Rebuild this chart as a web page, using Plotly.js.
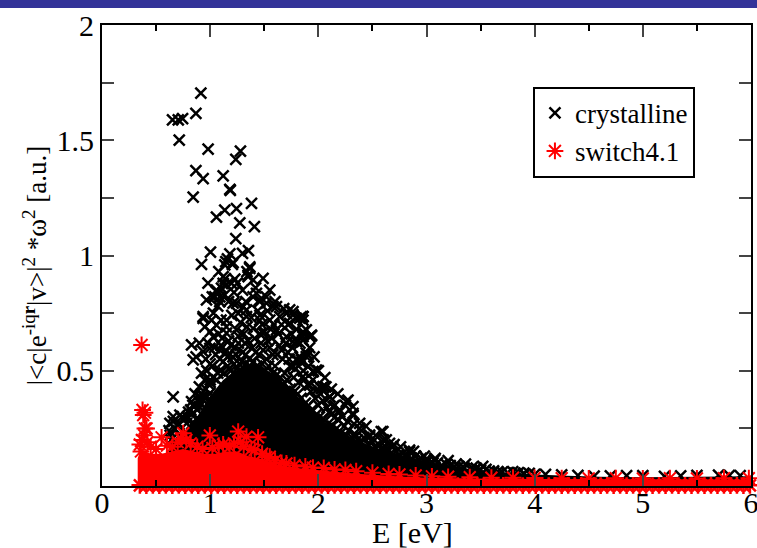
<!DOCTYPE html>
<html>
<head>
<meta charset="utf-8">
<script src="https://cdn.plot.ly/plotly-3.0.1.min.js"></script>
<style>html,body{margin:0;padding:0;background:#fff;}#chart{width:757px;height:548px;}</style>
</head>
<body>
<div id="chart"></div>
<script>
// ---- crystalline: scattered points (E, value) ----
var crystE = [0.914,0.868,0.652,0.705,0.745,0.714,0.981,1.280,1.237,0.868,0.935,1.120,1.182,1.186,0.843,1.382,1.243,1.135,1.058,1.274,1.409,1.237,1.003,1.354,1.299,0.920,1.145,1.182,1.212,1.135,1.366,1.120,1.228,1.351,1.489,1.160,1.205,1.340,
1.151,1.197,1.105,1.058,1.043,1.135,1.089,0.966,1.351,1.397,1.551,1.428,1.458,1.397,1.520,1.243,1.305,1.259,1.613,1.705,1.766,1.828,0.935,1.012,1.058,1.151,1.336,1.458,1.551,1.643,1.735,1.858,0.828,0.843,0.935,0.997,1.028,1.151,1.243,1.397,1.489,1.613,1.705,1.797,1.858,1.889,0.658,0.828,0.920,
1.366,0.935,0.658,0.720,0.782,0.628,0.905,0.951,0.997,1.058,1.120,1.089,1.212,1.336,1.458,1.520,1.582,1.735,1.797,1.858,1.920,1.889,1.797,1.982,2.043,2.105,
0.62,0.66,0.70,0.74,0.80,0.84,0.86,0.88,0.90,0.93,0.95,0.97,0.99,0.72,0.64,0.83,0.87,
1.02,1.05,1.07,1.10,1.12,1.14,1.17,1.18,1.21,1.23,1.26,1.27,1.30,1.32,1.34,1.36,1.39,1.41,1.43,1.45,1.47,1.50,1.52,1.55,1.57,1.60,1.62,1.64,1.67,1.69,1.72,1.74,1.77,1.80,1.82,1.86,1.90,1.93,1.97,2.00,1.08,1.15,1.20,1.28,1.38,1.44,1.48,1.56,1.66,1.75,1.95,2.02,2.08,2.12,2.18,2.24,2.28,2.35,2.42,2.50,2.56,2.64,2.72,2.78,2.90,2.95,3.10,3.18,3.30,3.42,3.55,3.62,3.85,3.95,
1.766,1.843,1.858,1.936,1.766,1.904,1.846,1.951,1.766,2.028,2.105,2.274,2.320,2.197,2.382,2.474,2.597,2.658,2.843,
1.858,1.858,1.936,1.858,1.889,1.843,1.951,1.858,1.920,2.028,2.105,2.259,2.320,2.135,2.197,2.320,2.382,2.474,2.582,2.628,2.689,2.843,2.997,3.074,3.274,3.459,3.674,3.797,
4.10,4.40,4.70,5.00,5.20,5.50,5.70,5.90,4.25,4.55,4.85,5.35,5.80,3.70,3.90,
0.63,0.67,0.71,0.75,0.79,0.82,0.86,0.89,0.92,0.96,1.00,1.03,1.06,1.09,1.13,1.16,1.19,1.22,1.25,1.29,1.33,1.37,1.40,1.44,1.48,1.51,1.54,1.58,1.61,1.65,1.68,1.71,1.74,1.78,1.81,1.84,1.88,1.91,1.94,1.98,2.01,2.05,2.09,2.13,2.17,2.21,2.26,2.31,2.36,2.40,2.46,2.52,2.58,2.62,2.68,2.74,2.82,2.86,2.93,3.00,3.06,3.14,3.22,3.26,3.35,3.46,3.50,3.58,3.66,3.75,3.82,3.90,4.00,
1.04,1.09,1.11,1.16,1.19,1.24,1.26,1.31,1.33,1.35,1.42,1.46,1.49,1.53,1.58,1.59,1.63,1.66,1.70,1.73,1.76,1.79,1.83,1.87,1.91,1.99,2.04,2.07,2.10,2.15,2.22,2.27,2.33,2.40,2.44,2.53,2.60,2.70,2.76,2.88,2.98,3.08,3.20,3.36,3.52,
0.84,0.90,0.97,1.00,1.00,1.09,0.92,0.96,0.98,1.00,0.90,0.87,0.95,1.03,1.07,1.10,1.02,0.98,1.08,1.14,1.17,1.22,1.25,1.30,1.33,1.42,1.46,1.53,1.60,1.68,1.72,1.80,1.83,1.92,1.96,2.00,2.06,2.12,2.18,2.25];
var crystV = [1.704,1.617,1.588,1.588,1.594,1.501,1.461,1.453,1.417,1.368,1.333,1.345,1.287,1.283,1.253,1.226,1.203,1.197,1.166,1.142,1.125,1.073,1.015,1.021,1.009,0.962,0.973,1.007,0.969,0.959,0.951,0.908,0.897,0.908,0.901,0.985,0.962,0.930,
0.872,0.879,0.858,0.843,0.821,0.829,0.800,0.807,0.915,0.894,0.850,0.836,0.800,0.821,0.793,0.793,0.778,0.749,0.778,0.749,0.756,0.728,0.735,0.720,0.698,0.720,0.735,0.720,0.720,0.735,0.706,0.735,0.612,0.547,0.583,0.597,0.648,0.663,0.677,0.684,0.663,0.677,0.648,0.626,0.648,0.677,0.387,0.366,0.380,
0.944,0.727,0.301,0.308,0.272,0.272,0.359,0.387,0.402,0.850,0.879,0.821,0.793,0.764,0.807,0.821,0.778,0.764,0.727,0.720,0.648,0.576,0.547,0.503,0.431,0.387,
0.24,0.28,0.26,0.30,0.32,0.35,0.40,0.33,0.43,0.39,0.46,0.50,0.44,0.22,0.20,0.27,0.29,
0.52,0.57,0.49,0.61,0.54,0.58,0.63,0.51,0.56,0.60,0.65,0.53,0.58,0.62,0.69,0.55,0.60,0.64,0.52,0.57,0.62,0.67,0.55,0.60,0.64,0.52,0.57,0.61,0.55,0.49,0.58,0.52,0.47,0.55,0.45,0.50,0.44,0.41,0.38,0.35,0.66,0.69,0.74,0.71,0.73,0.76,0.70,0.68,0.70,0.66,0.46,0.40,0.34,0.31,0.29,0.26,0.24,0.22,0.21,0.19,0.18,0.16,0.15,0.14,0.13,0.12,0.10,0.095,0.085,0.08,0.072,0.066,0.058,0.055,
0.742,0.735,0.663,0.655,0.626,0.570,0.534,0.496,0.518,0.424,0.387,0.373,0.315,0.330,0.250,0.221,0.236,0.185,0.156,
0.735,0.669,0.651,0.633,0.561,0.547,0.496,0.474,0.438,0.424,0.387,0.366,0.344,0.344,0.322,0.308,0.272,0.214,0.236,0.200,0.171,0.149,0.116,0.113,0.095,0.077,0.055,0.062,
0.050,0.046,0.044,0.045,0.042,0.046,0.047,0.045,0.048,0.043,0.045,0.044,0.046,0.060,0.056,
0.22,0.25,0.27,0.29,0.30,0.33,0.35,0.37,0.40,0.42,0.45,0.47,0.46,0.50,0.49,0.52,0.50,0.53,0.51,0.54,0.53,0.52,0.54,0.51,0.53,0.50,0.52,0.49,0.48,0.47,0.44,0.46,0.42,0.41,0.40,0.38,0.36,0.35,0.33,0.31,0.30,0.29,0.27,0.26,0.25,0.23,0.22,0.21,0.20,0.19,0.18,0.17,0.16,0.155,0.145,0.135,0.13,0.12,0.11,0.105,0.10,0.09,0.088,0.082,0.078,0.075,0.07,0.065,0.062,0.058,0.055,0.052,0.05,
0.60,0.55,0.64,0.56,0.61,0.57,0.62,0.66,0.57,0.63,0.58,0.66,0.59,0.63,0.57,0.70,0.66,0.59,0.62,0.55,0.60,0.51,0.56,0.46,0.52,0.42,0.37,0.43,0.32,0.35,0.30,0.28,0.27,0.24,0.26,0.22,0.20,0.18,0.17,0.15,0.13,0.12,0.11,0.095,0.085,
0.315,0.344,0.387,0.46,0.53,0.59,0.49,0.55,0.62,0.67,0.62,0.56,0.69,0.75,0.78,0.72,0.82,0.88,0.93,0.90,0.80,0.84,0.88,0.85,0.80,0.86,0.74,0.76,0.80,0.77,0.70,0.68,0.62,0.60,0.56,0.50,0.47,0.42,0.40,0.35];

// ---- crystalline: dense core outline (E, value) ----
var crystCoreE = [0.60,0.62,0.70,0.78,0.85,0.92,0.98,1.05,1.12,1.20,1.30,1.40,1.50,1.60,1.70,1.78,1.85,1.95,2.05,2.15,2.30,2.45,2.60,2.80,3.00,3.20,3.40,3.60,3.80,4.00,4.30,4.60,5.00,5.30,5.60,6.00,6.00,0.60];
var crystCoreV = [0.00,0.18,0.21,0.24,0.28,0.33,0.38,0.42,0.46,0.49,0.52,0.53,0.51,0.48,0.44,0.40,0.37,0.32,0.28,0.25,0.21,0.18,0.155,0.13,0.105,0.088,0.074,0.064,0.056,0.050,0.045,0.040,0.038,0.040,0.040,0.042,0.00,0.00];

// ---- switch4.1: scattered points (E, value) ----
var swE = [0.366,0.375,0.397,0.381,0.412,0.397,0.551,0.751,0.997,1.259,1.336,1.443,1.412,1.551,1.705,
0.35,0.37,0.39,0.36,0.42,0.45,0.50,0.60,0.65,0.70,0.73,0.78,0.82,0.88,0.93,1.02,1.08,1.12,1.18,1.22,1.28,1.31,1.38,1.48,1.52,1.60,1.66,1.78,1.88,1.95,2.05,2.15,2.25,2.35,2.50,2.65,2.75,2.90,3.05,3.20,3.40,3.60,3.80,4.00,4.25,4.50,4.75,5.00,5.25,5.50,5.75,5.98];
var swV = [0.612,0.330,0.318,0.308,0.250,0.250,0.211,0.229,0.219,0.236,0.214,0.211,0.156,0.127,0.098,
0.18,0.20,0.22,0.15,0.19,0.17,0.16,0.175,0.17,0.19,0.205,0.20,0.185,0.17,0.16,0.165,0.175,0.18,0.17,0.185,0.19,0.17,0.16,0.14,0.125,0.11,0.10,0.09,0.085,0.08,0.078,0.072,0.07,0.064,0.058,0.052,0.05,0.046,0.042,0.04,0.038,0.036,0.036,0.035,0.034,0.033,0.034,0.033,0.034,0.033,0.034,0.034];

// ---- switch4.1: points lying on the zero line ----
var swZeroE = [0.35,0.41,0.47,0.53,0.59,0.65,0.71,0.77,0.83,0.89,0.95,1.01,1.07,1.13,1.19,1.25,1.31,1.37,1.43,1.49,1.55,1.61,1.67,1.73,1.79,1.85,1.91,1.97,2.03,2.09,2.15,2.21,2.27,2.33,2.39,2.45,2.51,2.57,2.63,2.69,2.75,2.81,2.87,2.93,2.99,3.05,3.11,3.17,3.23,3.29,3.35,3.41,3.47,3.53,3.59,3.65,3.71,3.77,3.83,3.89,3.95,4.01,4.07,4.13,4.19,4.25,4.31,4.37,4.43,4.49,4.55,4.61,4.67,4.73,4.79,4.85,4.91,4.97,5.03,5.09,5.15,5.21,5.27,5.33,5.39,5.45,5.51,5.57,5.63,5.69,5.75,5.81,5.87,5.93,5.99];
var swZeroV = [0.003,0.002,0.003,0.002,0.003,0.002,0.003,0.002,0.003,0.002,0.003,0.002,0.003,0.002,0.003,0.002,0.003,0.002,0.003,0.002,0.003,0.002,0.003,0.002,0.003,0.002,0.003,0.002,0.003,0.002,0.003,0.002,0.003,0.002,0.003,0.002,0.003,0.002,0.003,0.002,0.003,0.002,0.003,0.002,0.003,0.002,0.003,0.002,0.003,0.002,0.003,0.002,0.003,0.002,0.003,0.002,0.003,0.002,0.003,0.002,0.003,0.002,0.003,0.002,0.003,0.002,0.003,0.002,0.003,0.002,0.003,0.002,0.003,0.002,0.003,0.002,0.003,0.002,0.003,0.002,0.003,0.002,0.003,0.002,0.003,0.002,0.003,0.002,0.003,0.002,0.003,0.002,0.003,0.002,0.003];

// ---- switch4.1: dense core outline (E, value) ----
var swCoreE = [0.33,0.33,0.36,0.40,0.45,0.55,0.65,0.75,0.85,0.95,1.05,1.15,1.25,1.35,1.45,1.55,1.65,1.75,1.85,2.00,2.20,2.40,2.60,2.80,3.00,3.30,3.60,4.00,4.50,5.00,5.50,6.00,6.00];
var swCoreV = [0.00,0.12,0.16,0.15,0.14,0.14,0.15,0.16,0.15,0.14,0.14,0.15,0.15,0.13,0.12,0.105,0.09,0.08,0.075,0.068,0.06,0.052,0.045,0.04,0.036,0.033,0.031,0.030,0.029,0.028,0.028,0.028,0.00];

var legendNames = ['crystalline', 'switch4.1'];
var xTickVals = [0,1,2,3,4,5,6];
var yTickVals = [0.25,0.5,0.75,1,1.25,1.5,1.75,2];
var yTickText = ['','0.5','','1','','1.5','','2'];
var xTitle = 'E [eV]';
var yTitle = '|&lt;c|e<sup>-iq<b>r</b></sup>|v&gt;|<sup>2</sup> *ω<sup>2</sup> [a.u.]';

var SERIF = 'Liberation Serif';

var traces = [
  {x: crystCoreE, y: crystCoreV, type: 'scatter', mode: 'lines', fill: 'toself',
   fillcolor: '#000000', line: {width: 0, color: '#000000'}, showlegend: false, hoverinfo: 'skip'},
  {x: crystE, y: crystV, type: 'scatter', mode: 'markers', name: legendNames[0], cliponaxis: false,
   marker: {symbol: 'x-thin', size: 11, color: '#000000', line: {width: 2.5, color: '#000000'}}},
  {x: swCoreE, y: swCoreV, type: 'scatter', mode: 'lines', fill: 'toself',
   fillcolor: '#ff0000', line: {width: 0, color: '#ff0000'}, showlegend: false, hoverinfo: 'skip'},
  {x: swZeroE, y: swZeroV, type: 'scatter', mode: 'markers', cliponaxis: false, showlegend: false,
   marker: {symbol: 'asterisk', size: 14, color: '#ff0000', line: {width: 2.5, color: '#ff0000'}}},
  {x: swE, y: swV, type: 'scatter', mode: 'markers', name: legendNames[1], cliponaxis: false,
   marker: {symbol: 'asterisk', size: 14, color: '#ff0000', line: {width: 2, color: '#ff0000'}}}
];

var layout = {
  width: 757, height: 548,
  margin: {l: 102, r: 6, t: 25, b: 62},
  paper_bgcolor: '#ffffff', plot_bgcolor: '#ffffff',
  font: {family: SERIF, color: '#000000', size: 30},
  showlegend: true,
  legend: {x: 0.664, y: 0.866, xanchor: 'left', yanchor: 'top', bgcolor: '#ffffff',
           bordercolor: '#000000', borderwidth: 2, font: {family: SERIF, size: 27, color: '#000000'},
           tracegroupgap: 0},
  xaxis: {range: [0, 6], tickvals: xTickVals, ticks: 'inside', ticklen: 12, tickwidth: 2,
          minor: {dtick: 0.5, ticks: 'inside', ticklen: 6, tickwidth: 2, tickcolor: '#000000', showgrid: false},
          showline: true, linewidth: 2, linecolor: '#000000', mirror: 'ticks', showgrid: false, zeroline: false,
          ticklabeloverflow: 'allow', automargin: false, ticklabelstandoff: -11,
          tickfont: {family: SERIF, size: 30, color: '#000000'}, layer: 'above traces'},
  yaxis: {range: [0, 2], tickvals: yTickVals, ticktext: yTickText, ticks: 'inside', ticklen: 12, tickwidth: 2,
          showline: true, linewidth: 2, linecolor: '#000000', mirror: 'ticks', showgrid: false, zeroline: false,
          ticklabeloverflow: 'allow', automargin: false,
          tickfont: {family: SERIF, size: 30, color: '#000000'}, layer: 'above traces'},
  annotations: [
    {text: xTitle, xref: 'paper', yref: 'paper', x: 0.479, y: -0.1, xanchor: 'center', yanchor: 'middle',
     showarrow: false, font: {family: SERIF, size: 30, color: '#000000'}},
    {text: yTitle, xref: 'paper', yref: 'paper', x: -0.103, y: 0.479, xanchor: 'center', yanchor: 'middle',
     textangle: -90, showarrow: false, font: {family: SERIF, size: 27, color: '#000000'}}
  ],
  shapes: [{type: 'rect', xref: 'paper', yref: 'paper', x0: -0.2, x1: 1.05, y0: 1.0369, y1: 1.07,
            fillcolor: '#333399', line: {width: 0}}]
};

Plotly.newPlot('chart', traces, layout, {displayModeBar: false, staticPlot: true});
</script>
</body>
</html>
